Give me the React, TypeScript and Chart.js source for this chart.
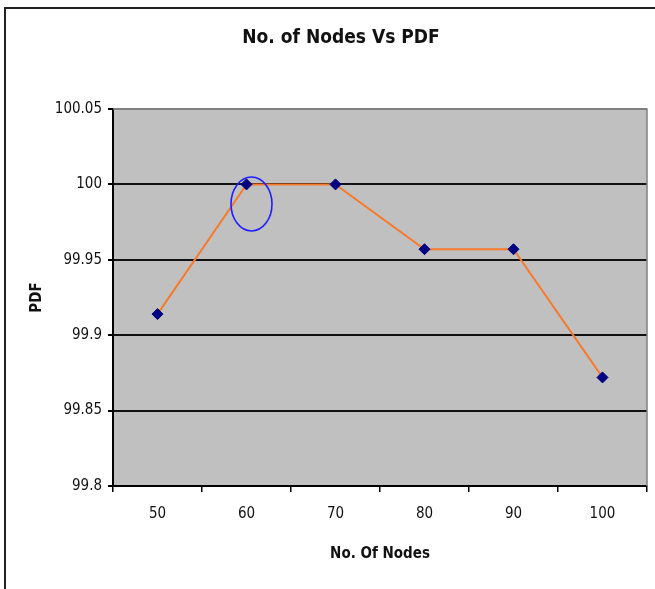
import React, { useEffect, useRef } from "react";
import { Chart, registerables } from "chart.js";

Chart.register(...registerables);

const nodeCounts = ["50", "60", "70", "80", "90", "100"];
const pdfValues = [99.914, 100, 100, 99.957, 99.957, 99.872];
const yTicks = [99.8, 99.85, 99.9, 99.95, 100, 100.05];

const FONT = "'Liberation Sans Narrow', 'DejaVu Sans Condensed', Arial, sans-serif";
const TITLE = "No. of Nodes Vs PDF";

const framePlugin = {
  id: "frame",
  beforeDraw(chart: any) {
    const { ctx, chartArea: a } = chart;
    ctx.save();
    ctx.fillStyle = "#ffffff";
    ctx.fillRect(0, 0, chart.width, chart.height);
    ctx.fillStyle = "#c0c0c0";
    ctx.fillRect(a.left, a.top, a.right - a.left, a.bottom - a.top);
    // outer frame (top and left)
    ctx.strokeStyle = "#222";
    ctx.lineWidth = 2;
    ctx.beginPath();
    ctx.moveTo(chart.width, 8);
    ctx.lineTo(5, 8);
    ctx.lineTo(5, chart.height);
    ctx.stroke();
    // title
    ctx.fillStyle = "#111";
    ctx.font = `bold 19px ${FONT}`;
    ctx.textAlign = "center";
    ctx.textBaseline = "middle";
    ctx.fillText(TITLE, 341, 38);
    ctx.restore();
  },
  afterDraw(chart: any) {
    const { ctx, chartArea: a } = chart;
    ctx.save();
    ctx.strokeStyle = "#808080";
    ctx.lineWidth = 1.5;
    ctx.beginPath();
    ctx.moveTo(a.left, a.top);
    ctx.lineTo(a.right, a.top);
    ctx.lineTo(a.right, a.bottom);
    ctx.stroke();
    ctx.restore();
  },
  afterDatasetsDraw(chart: any) {
    // highlight ring near the 60-node point
    const { ctx } = chart;
    const xs = chart.scales.x;
    const ys = chart.scales.y;
    const cx = xs.getPixelForValue(1) + 5;
    const cy = ys.getPixelForValue(99.987);
    ctx.save();
    ctx.strokeStyle = "#1f1fff";
    ctx.lineWidth = 1.6;
    ctx.beginPath();
    ctx.ellipse(cx, cy, 20.5, 27, 0, 0, Math.PI * 2);
    ctx.stroke();
    ctx.restore();
  },
};

export default function App() {
  const canvasRef = useRef<HTMLCanvasElement | null>(null);

  useEffect(() => {
    if (!canvasRef.current) return;
    const chart = new Chart(canvasRef.current, {
      type: "line",
      data: {
        labels: nodeCounts,
        datasets: [
          {
            data: pdfValues,
            borderColor: "#f77a2c",
            borderWidth: 2,
            pointStyle: "rectRot",
            pointRadius: 5.5,
            pointBackgroundColor: "#000080",
            pointBorderColor: "#000080",
            pointBorderWidth: 1,
            tension: 0,
          },
        ],
      },
      options: {
        responsive: true,
        maintainAspectRatio: false,
        animation: false,
        events: [],
        layout: { padding: { left: 0, right: 8, top: 109, bottom: 0 } },
        plugins: {
          legend: { display: false },
          title: { display: false },
          tooltip: { enabled: false },
        },
        scales: {
          x: {
            offset: true,
            afterFit: (s: any) => {
              s.height = 103;
            },
            grid: {
              display: true,
              offset: true,
              drawOnChartArea: false,
              tickLength: 6,
              color: "#000",
              lineWidth: 1.5,
            },
            border: { display: true, color: "#000", width: 2 },
            ticks: {
              color: "#111",
              padding: 13,
              font: { family: FONT, size: 15 },
              maxRotation: 0,
            },
            title: {
              display: true,
              text: "No. Of Nodes",
              color: "#111",
              font: { family: FONT, size: 15, weight: "bold" },
              padding: { top: 0, bottom: 26 },
            },
          },
          y: {
            min: yTicks[0],
            max: yTicks[yTicks.length - 1],
            afterFit: (s: any) => {
              s.width = 113;
            },
            afterBuildTicks: (s: any) => {
              s.ticks = yTicks.map((v) => ({ value: v }));
            },
            grid: {
              color: (c: any) =>
                c.tick && Math.abs(c.tick.value - 100.05) < 1e-6 ? "#808080" : "#111",
              tickColor: "#000",
              lineWidth: 2,
              tickLength: 5,
            },
            border: { display: true, color: "#000", width: 2 },
            ticks: {
              color: "#111",
              padding: 6,
              font: { family: FONT, size: 15 },
              callback: (v: any) => String(Number(Number(v).toFixed(2))),
            },
            title: {
              display: true,
              text: "PDF",
              color: "#111",
              font: { family: FONT, size: 15, weight: "bold" },
              padding: { top: 28, bottom: 0 },
            },
          },
        },
      },
      plugins: [framePlugin],
    });
    return () => chart.destroy();
  }, []);

  return (
    <div style={{ position: "fixed", left: 0, top: 0, width: 655, height: 589, background: "#fff" }}>
      <canvas ref={canvasRef} />
    </div>
  );
}
